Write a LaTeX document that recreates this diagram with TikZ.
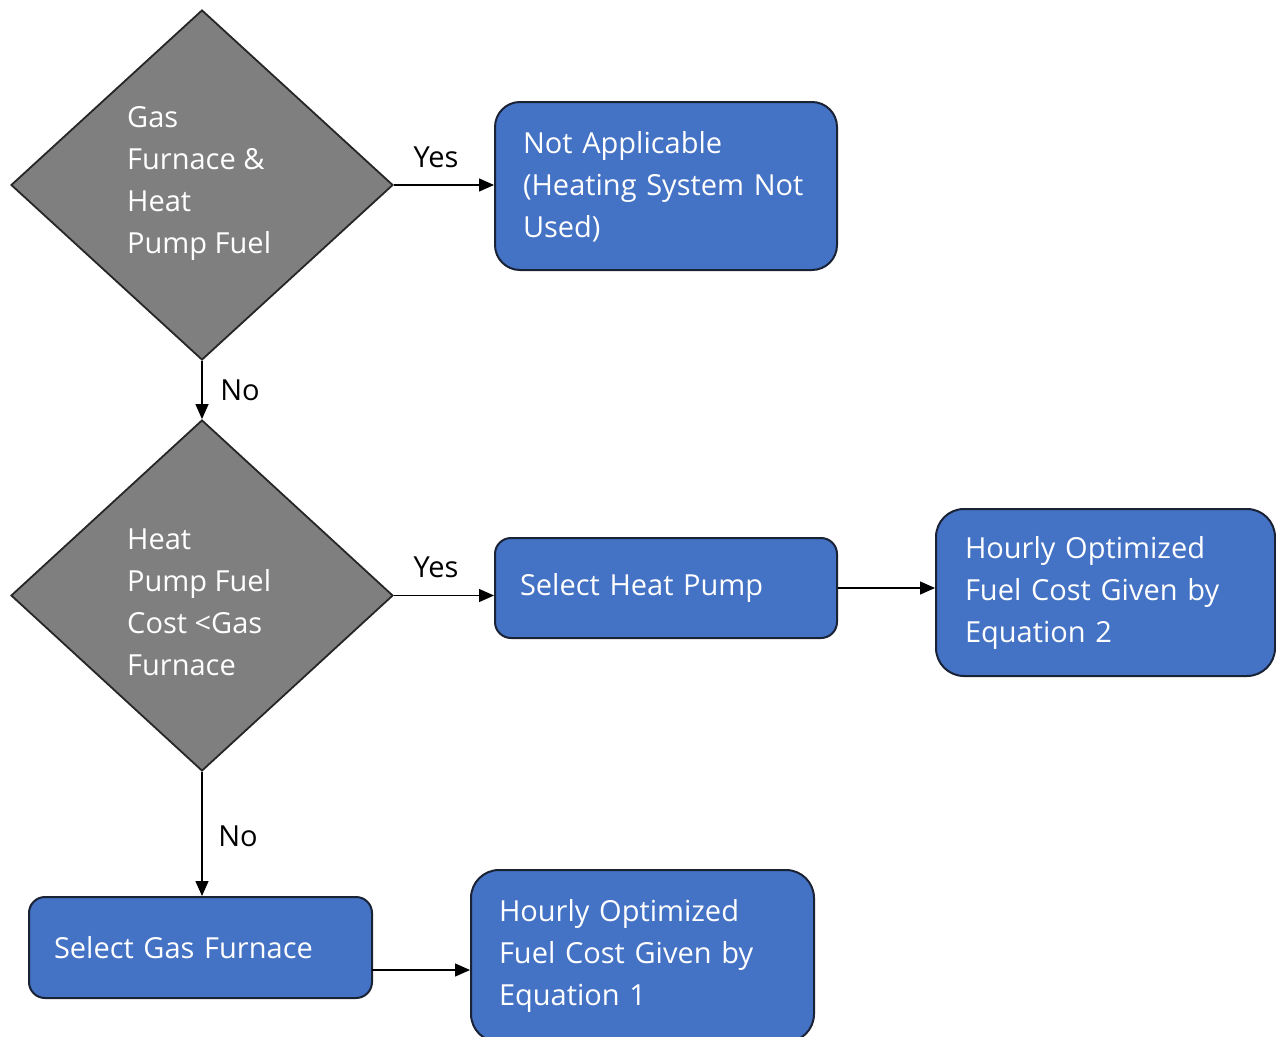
\documentclass[tikz,border=0pt]{standalone}
\usepackage{fontspec}
\setmainfont{Open Sans}
\usetikzlibrary{shapes.geometric,arrows.meta}
\definecolor{boxblue}{HTML}{4472C4}
\definecolor{boxedge}{HTML}{1A2236}
\definecolor{dgray}{HTML}{7F7F7F}
\definecolor{dedge}{HTML}{262626}
\begin{document}
\begin{tikzpicture}[x=1pt,y=-1pt,
  every node/.style={font=\fontsize{29}{42}\selectfont},
  dec/.style={diamond,draw=dedge,fill=dgray,line width=1.8pt,inner sep=0pt,aspect=1.09},
  dectext/.style={text=white,align=left,anchor=west,inner sep=0pt},
  pbox/.style={rectangle,rounded corners=#1,draw=boxedge,fill=boxblue,line width=2pt,text=white,align=left,inner ysep=0pt},
  conn/.style={line width=1.3pt,-{Triangle[length=15pt,width=13pt]}},
  lbl/.style={text=black,inner sep=0pt}]
\fill[white] (0,0) rectangle (1276,1036);
\useasboundingbox (0,0) rectangle (1276,1036);
% diamonds
\node[dec,minimum width=382pt,minimum height=350pt] (d1) at (202,185) {};
\node[dectext] (t1) at (127,183) {Gas\\Furnace \&\\Heat\\Pump Fuel};
\node[dec,minimum width=382pt,minimum height=351pt] (d2) at (202,595.5) {};
\node[dectext] (t2) at (127,602) {Heat\\Pump Fuel\\Cost <Gas\\Furnace};
% boxes
\node[pbox=25pt,minimum width=342pt,minimum height=168pt,text width=286pt,inner xsep=28pt] (b1) at (666,186) {\rule{0pt}{24pt}Not Applicable\\(Heating System Not\\Used)};
\node[pbox=16pt,minimum width=342pt,minimum height=100pt,text width=292pt,inner xsep=25pt] (b2) at (666,588) {Select Heat Pump};
\node[pbox=28pt,minimum width=339pt,minimum height=167pt,text width=281pt,inner xsep=29pt] (b3) at (1105.5,592.5) {Hourly Optimized\\Fuel Cost Given by\\Equation 2};
\node[pbox=16pt,minimum width=343pt,minimum height=101pt,text width=293pt,inner xsep=25pt] (b4) at (200.5,947.5) {Select Gas Furnace};
\node[pbox=28pt,minimum width=343pt,minimum height=172pt,text width=287pt,inner xsep=28pt] (b5) at (642.5,956) {Hourly Optimized\\Fuel Cost Given by\\Equation 1\rule[-8pt]{0pt}{1pt}};
% connectors
\draw[conn] (d1.east) -- (d1.east -| b1.west);
\draw[conn] (d1.south) -- (d2.north);
\draw[conn] (d2.east) -- (d2.east -| b2.west);
\draw[conn] (b2.east) -- (b2.east -| b3.west);
\draw[conn] (d2.south) -- (d2.south |- b4.north);
\coordinate (c4) at (372,970);
\draw[conn] (c4) -- (c4 -| b5.west);
% labels
\node[lbl] (yes1) at (436,157) {Yes};
\node[lbl] (no1) at (240,390) {No};
\node[lbl] (yes2) at (436,567) {Yes};
\node[lbl] (no2) at (238,836) {No};
\end{tikzpicture}
\end{document}
